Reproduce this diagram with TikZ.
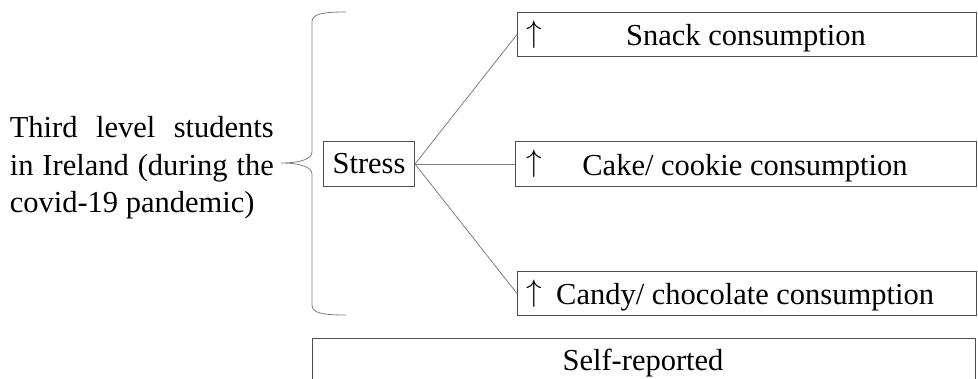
\documentclass[tikz,border=0pt]{standalone}
\usepackage{fontspec}
\usepackage{graphicx}
\setmainfont{Liberation Serif}
\newcommand{\uparr}{\scalebox{1.25}{$\uparrow$}}
\begin{document}
\begin{tikzpicture}[x=1pt,y=-1pt,
  box/.style={draw=black!70,line width=1pt,inner sep=0pt,anchor=north west},
  conn/.style={draw=black!50,line width=0.8pt},
  txt/.style={font=\fontsize{30.5}{37.5}\selectfont},
  up/.style={font=\fontsize{24.88}{30}\selectfont,anchor=west,inner sep=0pt}]
\useasboundingbox (0,0) rectangle (978,378);
% boxes
\node[box,minimum width=459pt,minimum height=44pt] (snack) at (517,12) {};
\node[box,minimum width=461pt,minimum height=45pt] (cake) at (515,141) {};
\node[box,minimum width=459pt,minimum height=44pt] (candy) at (517,271) {};
\node[box,minimum width=91pt,minimum height=45pt,txt] (stress) at (323,141) {Stress};
\node[box,minimum width=663pt,minimum height=60pt] (self) at (312,338) {};
% box texts
\node[up] (a1) at (526,35) {\uparr};
\node[txt,inner sep=0pt,anchor=base] (t1) at (746,45) {Snack consumption};
\node[up] (a2) at (526,164) {\uparr};
\node[txt,inner sep=0pt,anchor=base] (t2) at (745,175) {Cake/ cookie consumption};
\node[up] (a3) at (526,294) {\uparr};
\node[txt,inner sep=0pt,anchor=base west] (t3) at (556,304) {Candy/ chocolate consumption};
\node[txt,inner sep=0pt,anchor=base] (t4) at (643,370) {Self-reported};
% left text
\node[txt,inner sep=0pt,anchor=east,align=left] (stud) at (274,168)
  {\makebox[264pt][s]{Third level students}\\
   \makebox[264pt][s]{in Ireland (during the}\\
   \makebox[264pt][l]{covid-19 pandemic)}};
% brace
\coordinate (tip) at (281,163);
\draw[conn] (346,12) .. controls (322,12) and (312,14) .. (312,22)
  -- (312,152) .. controls (312,159) and (300,163) .. (tip)
  .. controls (300,163) and (312,167) .. (312,174)
  -- (312,305) .. controls (312,313) and (322,315) .. (346,315);
% connectors
\draw[conn] (stress.east) -- (snack.west);
\draw[conn] (stress.east) -- (cake.west);
\draw[conn] (stress.east) -- (candy.west);
\end{tikzpicture}
\end{document}
